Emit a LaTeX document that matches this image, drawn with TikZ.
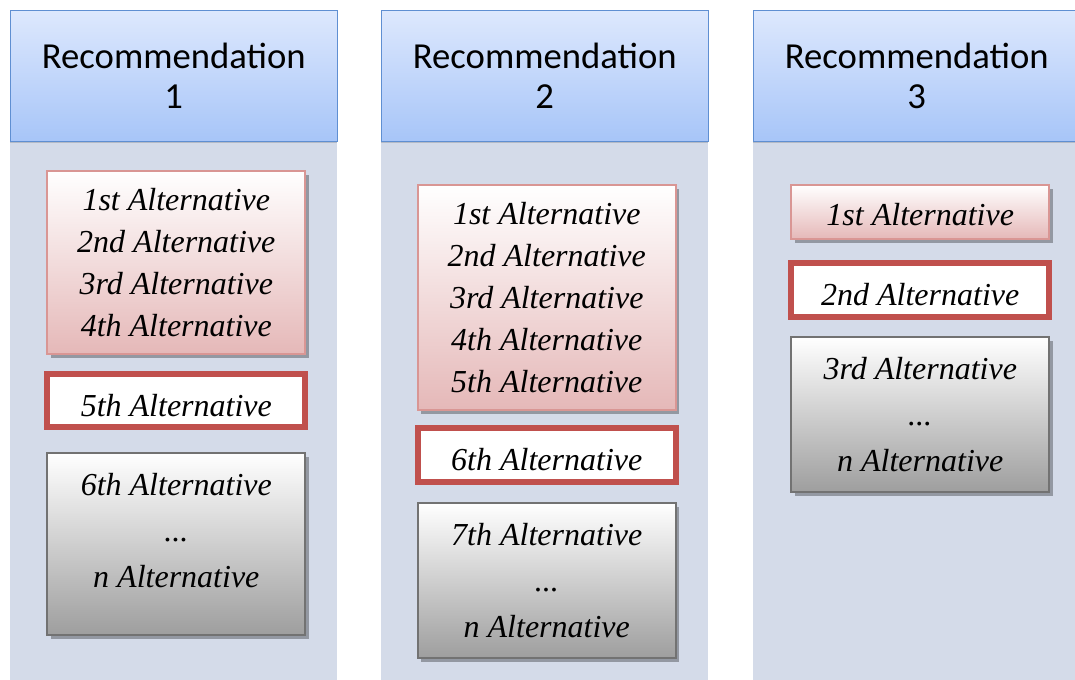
\documentclass[tikz,border=0pt]{standalone}
\usepackage{fontspec}
\setmainfont{Liberation Serif}
\newfontfamily\headfont{Carlito}
\usepackage{tikz}
\usetikzlibrary{positioning,shadows}
\usepackage{xcolor}
\definecolor{HeadTop}{HTML}{DDE8FD}
\definecolor{HeadBottom}{HTML}{A7C5F8}
\definecolor{HeadEdge}{HTML}{5F8FD2}
\definecolor{BodyFill}{HTML}{D4DBE9}
\definecolor{PinkEdge}{HTML}{D99694}
\definecolor{PinkLow}{HTML}{E5B8B8}
\definecolor{RedEdge}{HTML}{C0504D}
\definecolor{GreyEdge}{HTML}{727272}
\definecolor{GreyLow}{HTML}{9E9E9E}

\begin{document}
\begin{tikzpicture}[
				colbody/.style={
					fill=BodyFill,
					minimum width=245.25pt,
					minimum height=403.5pt,
					anchor=north west,
					inner sep=0pt
				},
				headbox/.style={
					draw=HeadEdge,
					line width=0.9pt,
					top color=HeadTop,
					bottom color=HeadBottom,
					minimum width=245.25pt,
					minimum height=98pt,
					align=center,
					inner sep=0pt,
					font=\headfont\fontsize{27.5}{30}\selectfont,
					drop shadow={shadow xshift=0pt, shadow yshift=-1.5pt, fill=black, opacity=0.15}
				},
				altbox/.style={
					minimum width=193.5pt,
					align=center,
					inner sep=0pt,
					font=\itshape\fontsize{24}{31.5}\selectfont
				},
				pinkalt/.style={
					altbox,
					draw=PinkEdge,
					line width=1.5pt,
					top color=white,
					bottom color=PinkLow,
					drop shadow={shadow xshift=2.5pt, shadow yshift=-3pt, fill=black, opacity=0.3}
				},
				redalt/.style={
					altbox,
					draw=RedEdge,
					line width=4.5pt,
					fill=white,
					minimum height=40.5pt,
					text height=24pt,
					text depth=0pt
				},
				greyalt/.style={
					altbox,
					draw=GreyEdge,
					line width=1.5pt,
					top color=white,
					bottom color=GreyLow,
					drop shadow={shadow xshift=2.5pt, shadow yshift=-3pt, fill=black, opacity=0.3}
				}
				]
				
				\useasboundingbox (0,0) rectangle (806.25pt,-510pt);
				\clip (0,0) rectangle (806.25pt,-510pt);
				
				% column bodies
				\node[colbody] (c1) at (7.5pt,-106.5pt) {};
				\node[colbody] (c2) at (285.75pt,-106.5pt) {};
				\node[colbody] (c3) at (564.75pt,-106.5pt) {};
				
				% headers
				\node[headbox, above=0pt of c1] (h1) {Recommendation\\1};
				\node[headbox, above=0pt of c2] (h2) {Recommendation\\2};
				\node[headbox, above=0pt of c3] (h3) {Recommendation\\3};
				
				% recommendation 1
				\node[
				pinkalt,
				minimum height=137.25pt,
				below=21pt of h1,
				xshift=1.9pt
				] (a1) {1st Alternative\\2nd Alternative\\3rd Alternative\\4th Alternative};
				
				\node[
				redalt,
				minimum height=39.75pt,
				below=12pt of a1
				] (r1) {5th Alternative};
				
				\node[
				greyalt,
				minimum height=136.5pt,
				below=16.5pt of r1
				] (g1) {6th Alternative\\[3pt]...\\[3pt]n Alternative\\[-10.5pt]\mbox{}};
				
				% recommendation 2
				\node[
				pinkalt,
				minimum height=168.75pt,
				below=31.5pt of h2,
				xshift=1.5pt
				] (a2) {1st Alternative\\2nd Alternative\\3rd Alternative\\4th Alternative\\5th Alternative};
				
				\node[
				redalt,
				below=10.5pt of a2
				] (r2) {6th Alternative};
				
				\node[
				greyalt,
				minimum height=116.25pt,
				below=12.75pt of r2
				] (g2) {7th Alternative\\[3pt]...\\[3pt]n Alternative};
				
				% recommendation 3
				\node[
				pinkalt,
				minimum height=40.5pt,
				text height=21pt,
				text depth=0pt,
				below=31.5pt of h3,
				xshift=2.6pt
				] (a3) {1st Alternative};
				
				\node[
				redalt,
				below=15pt of a3
				] (r3) {2nd Alternative};
				
				\node[
				greyalt,
				minimum height=116.25pt,
				below=12pt of r3
				] (g3) {3rd Alternative\\[3pt]...\\[3pt]n Alternative};
				
			\end{tikzpicture}
\end{document}
